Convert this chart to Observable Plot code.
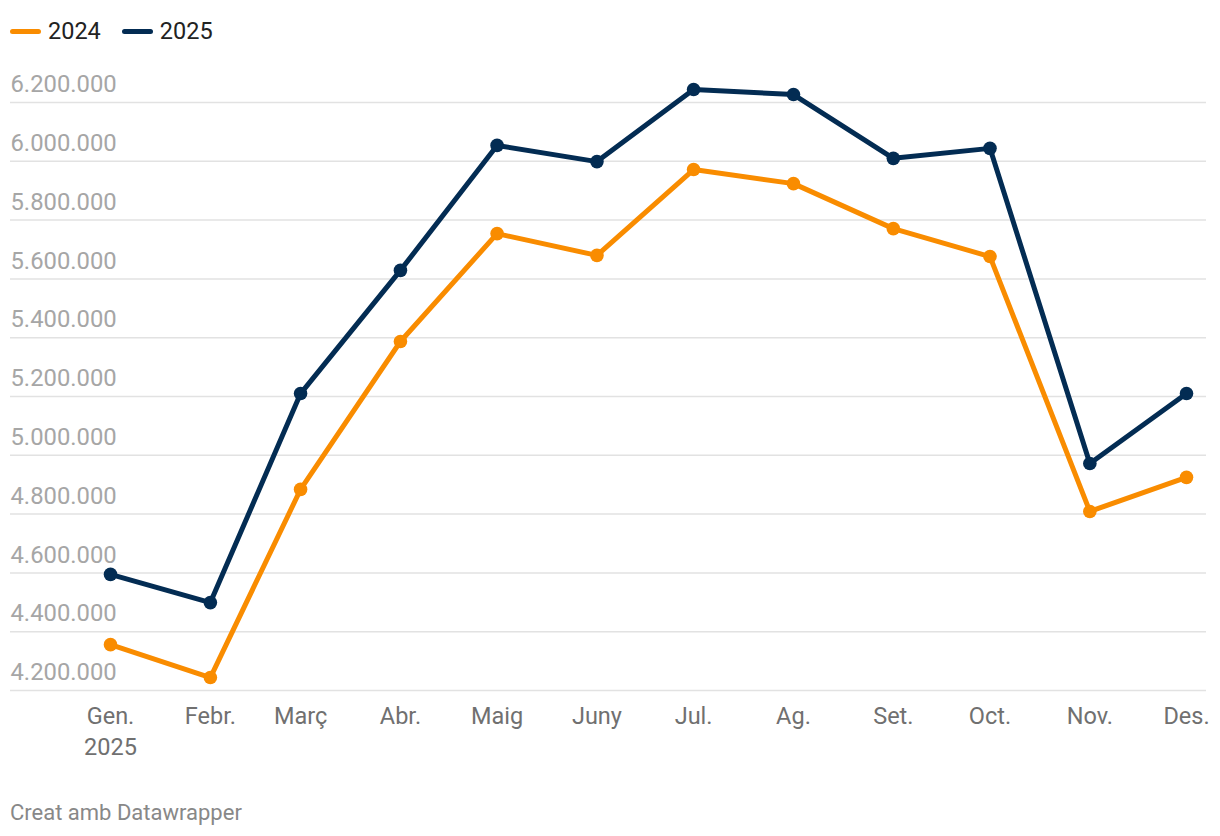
<!DOCTYPE html>
<html>
<head>
<meta charset="utf-8">
<script src="https://cdn.jsdelivr.net/npm/d3@7"></script>
<script src="https://cdn.jsdelivr.net/npm/@observablehq/plot@0.6"></script>
<style>
  html, body { margin: 0; padding: 0; background: #fff; width: 1220px; height: 836px; overflow: hidden; font-family: Roboto, "Noto Sans", sans-serif; }
  #legend { position: absolute; left: 10px; top: 17px; display: flex; align-items: center; font-size: 23.5px; color: #222; }
  .item { display: flex; align-items: center; margin-right: 21px; }
  .swatch { width: 31px; height: 5px; border-radius: 3px; margin-right: 7px; }
  #chart { position: absolute; left: 0; top: 60px; }
  #footer { position: absolute; left: 10px; top: 800px; font-size: 22px; color: #888; }
</style>
</head>
<body>
<div id="legend"></div>
<div id="chart"></div>
<div id="footer">Creat amb Datawrapper</div>
<script>
const monthDates = ["2025-01-01", "2025-02-01", "2025-03-01", "2025-04-01", "2025-05-01", "2025-06-01", "2025-07-01", "2025-08-01", "2025-09-01", "2025-10-01", "2025-11-01", "2025-12-01"];
const monthLabels = ["Gen.\n2025", "Febr.", "Març", "Abr.", "Maig", "Juny", "Jul.", "Ag.", "Set.", "Oct.", "Nov.", "Des."];
const values2024 = [4356000, 4244000, 4884000, 5387000, 5754000, 5680000, 5972000, 5924000, 5771000, 5676000, 4809000, 4925000];
const values2025 = [4595000, 4499000, 5210000, 5629000, 6054000, 5999000, 6244000, 6227000, 6010000, 6044000, 4972000, 5210000];
const seriesNames = ["2024", "2025"];
const seriesColors = ["#f98c00", "#032c53"];
const yTicks = [4200000, 4400000, 4600000, 4800000, 5000000, 5200000, 5400000, 5600000, 5800000, 6000000, 6200000];

const dates = monthDates.map(s => new Date(s + "T00:00:00Z"));
const data = [];
dates.forEach((d, i) => {
  data.push({date: d, series: seriesNames[0], value: values2024[i]});
  data.push({date: d, series: seriesNames[1], value: values2025[i]});
});
const labelData = dates.map((d, i) => ({date: d, label: monthLabels[i]}));

const fmt = v => d3.format(",")(v).replace(/,/g, ".");

// legend
const legend = document.getElementById("legend");
seriesNames.forEach((s, i) => {
  const it = document.createElement("div");
  it.className = "item";
  it.innerHTML = `<div class="swatch" style="background:${seriesColors[i]}"></div><span>${s}</span>`;
  legend.appendChild(it);
});

const chart = Plot.plot({
  width: 1220,
  height: 710,
  marginLeft: 10,
  marginRight: 14,
  marginTop: 42,
  marginBottom: 80,
  style: {fontFamily: "Roboto, 'Noto Sans', sans-serif", background: "#fff"},
  x: {type: "utc", domain: [dates[0], dates[dates.length - 1]], range: [110, 1186], axis: null},
  y: {domain: [4200000, 6200000], axis: null},
  color: {domain: seriesNames, range: seriesColors},
  marks: [
    Plot.ruleY(yTicks, {stroke: "#e2e2e2", strokeWidth: 1.5}),
    Plot.text(yTicks, {y: d => d, text: d => fmt(d), frameAnchor: "left", textAnchor: "start", lineAnchor: "middle", dy: -18, fontSize: 23.8, fill: "#a6a6a6"}),
    Plot.line(data, {x: "date", y: "value", z: "series", stroke: "series", strokeWidth: 5, strokeLinejoin: "round", strokeLinecap: "round"}),
    Plot.dot(data, {x: "date", y: "value", fill: "series", r: 6.8, stroke: "none"}),
    Plot.text(labelData, {x: "date", text: "label", frameAnchor: "bottom", lineAnchor: "top", dy: 12, fontSize: 23.5, fill: "#707070", lineHeight: 1.3})
  ]
});
document.getElementById("chart").appendChild(chart);
</script>
</body>
</html>
